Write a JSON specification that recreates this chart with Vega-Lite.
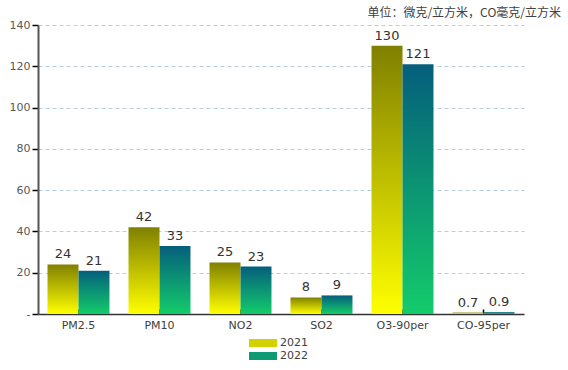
{
  "$schema": "https://vega.github.io/schema/vega-lite/v6.json",
  "width": 486,
  "height": 289,
  "autosize": {"type": "none"},
  "padding": {"left": 38, "top": 25, "right": 44, "bottom": 56},
  "background": "white",
  "title": {
    "text": "单位：微克/立方米，CO毫克/立方米",
    "anchor": "end",
    "frame": "group",
    "dx": 37,
    "dy": 8,
    "offset": 7,
    "font": "Noto Sans CJK SC",
    "fontSize": 12,
    "fontWeight": "normal",
    "color": "#404040"
  },
  "config": {
    "view": {"stroke": null},
    "axis": {"labelFont": "DejaVu Sans", "labelFontSize": 11}
  },
  "data": {
    "values": [
      {"pollutant": "PM2.5", "year": "2021", "value": 24},
      {"pollutant": "PM2.5", "year": "2022", "value": 21},
      {"pollutant": "PM10", "year": "2021", "value": 42},
      {"pollutant": "PM10", "year": "2022", "value": 33},
      {"pollutant": "NO2", "year": "2021", "value": 25},
      {"pollutant": "NO2", "year": "2022", "value": 23},
      {"pollutant": "SO2", "year": "2021", "value": 8},
      {"pollutant": "SO2", "year": "2022", "value": 9},
      {"pollutant": "O3-90per", "year": "2021", "value": 130},
      {"pollutant": "O3-90per", "year": "2022", "value": 121},
      {"pollutant": "CO-95per", "year": "2021", "value": 0.7},
      {"pollutant": "CO-95per", "year": "2022", "value": 0.9}
    ]
  },
  "encoding": {
    "x": {
      "field": "pollutant",
      "type": "nominal",
      "sort": null,
      "scale": {"paddingInner": 0.235, "paddingOuter": 0.1175},
      "axis": {
        "title": null,
        "labelAngle": 0,
        "domainColor": "#333333",
        "domainWidth": 1.5,
        "tickColor": "#000000",
        "tickWidth": 1.5,
        "tickSize": -5,
        "labelPadding": 10,
        "labelColor": "#404040",
        "grid": false
      }
    },
    "xOffset": {"field": "year", "type": "nominal", "scale": {"domain": ["2021", "2022"]}},
    "y": {
      "field": "value",
      "type": "quantitative",
      "scale": {"domain": [0, 140], "nice": false},
      "axis": {
        "title": null,
        "values": [0, 20, 40, 60, 80, 100, 120, 140],
        "labelExpr": "datum.value === 0 ? '-' : datum.label",
        "domainColor": "#555555",
        "domainWidth": 2,
        "tickColor": "#000000",
        "tickWidth": 1.5,
        "tickSize": 6,
        "labelPadding": 2,
        "labelColor": "#595959",
        "grid": true,
        "gridColor": "#b7cde3",
        "gridDash": [4, 3],
        "gridWidth": 1
      }
    }
  },
  "layer": [
    {
      "transform": [{"filter": "datum.year === '2021'"}],
      "mark": {
        "type": "bar",
        "strokeWidth": 0,
        "fill": {
          "gradient": "linear",
          "x1": 0, "y1": 0, "x2": 0, "y2": 1,
          "stops": [{"offset": 0, "color": "#808000"}, {"offset": 1, "color": "#ffff00"}]
        }
      }
    },
    {
      "transform": [{"filter": "datum.year === '2022'"}],
      "mark": {
        "type": "bar",
        "strokeWidth": 0,
        "fill": {
          "gradient": "linear",
          "x1": 0, "y1": 0, "x2": 0, "y2": 1,
          "stops": [{"offset": 0, "color": "#055e7c"}, {"offset": 1, "color": "#13cc6a"}]
        }
      }
    },
    {
      "mark": {"type": "bar", "strokeWidth": 0},
      "encoding": {
        "y2": {"field": "value"},
        "fill": {
          "field": "year",
          "type": "nominal",
          "scale": {"domain": ["2021", "2022"], "range": ["#d2d200", "#0e9a74"]},
          "legend": {
            "title": null,
            "orient": "none",
            "legendX": 218,
            "legendY": 311,
            "direction": "vertical",
            "symbolType": "M-2,-0.57L2,-0.57L2,0.57L-2,0.57Z",
            "symbolSize": 196,
            "symbolStrokeWidth": 0,
            "symbolOpacity": 1,
            "labelFont": "DejaVu Sans",
            "labelFontSize": 11,
            "labelColor": "#404040",
            "labelOffset": 10,
            "rowPadding": 1
          }
        }
      }
    },
    {
      "mark": {
        "type": "text",
        "baseline": "alphabetic",
        "dy": -6,
        "font": "DejaVu Sans",
        "fontSize": 13,
        "color": "#333333"
      },
      "encoding": {
        "text": {"field": "value", "type": "quantitative"}
      }
    }
  ]
}
